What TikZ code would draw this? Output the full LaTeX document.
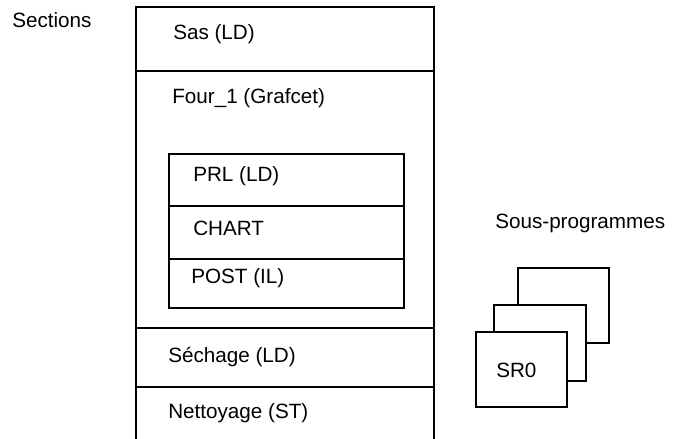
\documentclass[tikz,border=0pt]{standalone}
\usepackage{fontspec}
\setmainfont{Liberation Sans}
\usepackage{tikz}
\usetikzlibrary{positioning}

\begin{document}
\begin{tikzpicture}[
        x=0.75pt, y=-0.75pt,
        % Define styles for the frame lines and the labels
        frame_line/.style={line width=1.5pt, line cap=rect},
        sec_label/.style={anchor=base west, inner sep=0pt, font=\fontsize{15.5}{18}\selectfont},
        sr_box/.style={draw, line width=1.5pt, fill=white}
    ]
        \useasboundingbox (0, 0) rectangle (673, 438);

        % --- Outer section frame, open at the bottom ---
        \draw[frame_line] (136, 438) -- (136, 7) -- (434, 7) -- (434, 438);
        \draw[frame_line] (136, 71) -- (434, 71);
        \draw[frame_line] (136, 328) -- (434, 328);
        \draw[frame_line] (136, 387) -- (434, 387);

        % --- Nested sections inside Four_1 ---
        \draw[frame_line] (169, 154) rectangle (404, 308);
        \draw[frame_line] (169, 206) -- (404, 206);
        \draw[frame_line] (169, 259) -- (404, 259);

        % --- Section labels ---
        \node (sections) [sec_label] at (12, 28) {Sections};
        \node (sas)      [sec_label] at (173, 40) {Sas (LD)};
        \node (four)     [sec_label] at (172, 104) {Four\_1 (Grafcet)};
        \node (prl)      [sec_label] at (193, 181) {PRL (LD)};
        \node (chart)    [sec_label] at (193, 235) {CHART};
        \node (post)     [sec_label] at (191, 283) {POST (IL)};
        \node (sechage)  [sec_label] at (168, 362) {Séchage (LD)};
        \node (nettoy)   [sec_label] at (168, 418) {Nettoyage (ST)};

        % --- Stacked subroutine sheets ---
        \node (sous) [sec_label] at (495, 228) {Sous-programmes};
        \draw[sr_box] (518, 268) rectangle (609, 343);
        \draw[sr_box] (494, 305) rectangle (586, 381);
        \draw[sr_box] (476, 332) rectangle (567, 407);
        \node (sr0) [sec_label] at (496, 377) {SR0};

    \end{tikzpicture}
\end{document}
